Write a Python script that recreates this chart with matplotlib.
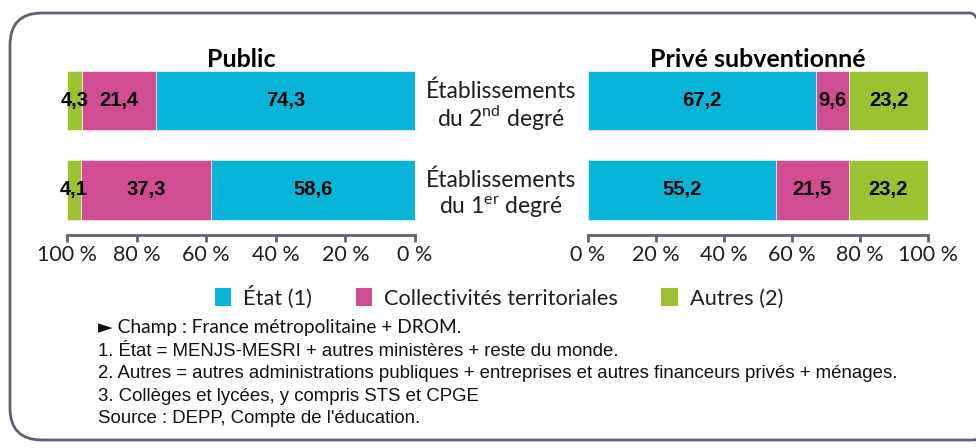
import matplotlib.pyplot as plt
from matplotlib.patches import FancyBboxPatch, Patch
import matplotlib.transforms as mtransforms

plt.rcParams['font.family'] = ['Lato', 'DejaVu Sans']
plt.rcParams['mathtext.fontset'] = 'custom'
plt.rcParams['mathtext.rm'] = 'Lato'

# data (%)
categories = ["Établissements du 1er degré", "Établissements du 2nd degré"]
public_etat = [58.6, 74.3]
public_coll = [37.3, 21.4]
public_autres = [4.1, 4.3]
prive_etat = [55.2, 67.2]
prive_coll = [21.5, 9.6]
prive_autres = [23.2, 23.2]
series_names = ["État (1)", "Collectivités territoriales", "Autres (2)"]
ticks = [0, 20, 40, 60, 80, 100]

colors = ['#08b5d9', '#d14d93', '#9bc231']
axis_col = '#5b6371'
txt_col = '#1e1e1e'

fig = plt.figure(figsize=(9.76, 4.48), dpi=100)
W, H = 976, 448

# rounded frame (inches), right edge runs off the picture
frame = FancyBboxPatch((0.10, 0.08), 9.92, 4.48 - 0.21,
                       boxstyle="round,pad=0,rounding_size=0.32",
                       transform=fig.dpi_scale_trans, facecolor='none',
                       edgecolor=axis_col, linewidth=2.0, clip_on=False)
fig.patches.append(frame)

ax_bottom = 1 - 235 / H
ax_h = (235 - 71) / H
ax_pub = fig.add_axes([67 / W, ax_bottom, (415 - 67) / W, ax_h])
ax_prv = fig.add_axes([588 / W, ax_bottom, (928 - 588) / W, ax_h])

ypos = [0, 1]


def fmt(v):
    return f"{v:.1f}".replace('.', ',')


for ax, vals, title in [(ax_pub, (public_etat, public_coll, public_autres), "Public"),
                        (ax_prv, (prive_etat, prive_coll, prive_autres), "Privé subventionné")]:
    left = [0, 0]
    for v, c in zip(vals, colors):
        bars = ax.barh(ypos, v, left=left, height=0.67, color=c,
                       edgecolor='white', linewidth=0.4)
        ax.bar_label(bars, labels=[fmt(x) for x in v], label_type='center',
                     fontsize=14.5, fontweight='bold', family='Liberation Sans',
                     color='black')
        left = [a + b for a, b in zip(left, v)]
    ax.set_ylim(-0.503, 1.33)
    ax.set_yticks([])
    ax.set_xticks(ticks)
    ax.set_xticklabels([f"{t} %" for t in ticks], fontsize=15.5, color=txt_col)
    for s in ['top', 'left', 'right']:
        ax.spines[s].set_visible(False)
    ax.spines['bottom'].set_color(axis_col)
    ax.spines['bottom'].set_linewidth(2)
    ax.tick_params(axis='x', length=5, width=2, color=axis_col, pad=2)
    ax.patch.set_visible(False)
    ax.set_title(title, fontsize=18, fontweight='bold', pad=3)

ax_pub.set_xlim(100, 0)
ax_prv.set_xlim(0, 100)

# centre category labels
trans = mtransforms.blended_transform_factory(fig.transFigure, ax_pub.transData)
lab_lines = [("Établissements", r"du 1$^{\mathrm{er}}$ degré"),
             ("Établissements", r"du 2$^{\mathrm{nd}}$ degré")]
for y, (l1, l2) in zip(ypos, lab_lines):
    fig.text(501 / W, y + 0.105, l1, transform=trans, ha='center', va='center',
             fontsize=16.5, color=txt_col)
    fig.text(501 / W, y - 0.19, l2, transform=trans, ha='center', va='center',
             fontsize=16.5, color=txt_col)

# legend
handles = [Patch(facecolor=c, edgecolor='none') for c in colors]
fig.legend(handles, series_names, loc='center', bbox_to_anchor=(499 / W, 1 - 297 / H),
           ncol=3, frameon=False, fontsize=15.7, handlelength=0.75, handleheight=0.95,
           handletextpad=0.55, columnspacing=2.0, labelcolor=txt_col)

# notes
notes = ["1. État = MENJS-MESRI + autres ministères + reste du monde.",
         "2. Autres = autres administrations publiques + entreprises et autres financeurs privés + ménages.",
         "3. Collèges et lycées, y compris STS et CPGE",
         "Source : DEPP, Compte de l'éducation."]
fig.text(98 / W, 1 - 328 / H, "► Champ : France métropolitaine + DROM.", fontsize=13.8,
         family=['Lato', 'DejaVu Sans'], va='center', ha='left', color='#111111')
for i, n in enumerate(notes):
    fig.text(98 / W, 1 - (351 + i * 22.5) / H, n, fontsize=13.4, family='Liberation Sans',
             va='center', ha='left', color='#111111')

fig.savefig("out.png", dpi=100)
